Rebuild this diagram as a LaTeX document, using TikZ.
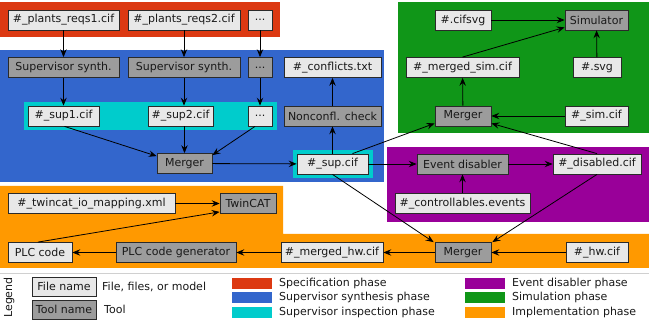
\documentclass[tikz,border=0pt]{standalone}
\usepackage{fontspec}
\setmainfont{DejaVu Sans}
\usetikzlibrary{arrows.meta}
\definecolor{specred}{HTML}{DC3912}
\definecolor{synthblue}{HTML}{3366CC}
\definecolor{inspcyan}{HTML}{00CCCC}
\definecolor{disabpurple}{HTML}{990099}
\definecolor{simgreen}{HTML}{109618}
\definecolor{implorange}{HTML}{FF9900}
\definecolor{filefill}{HTML}{E8E8E8}
\definecolor{toolfill}{HTML}{9C9C9C}
\definecolor{boxline}{HTML}{2A2A2A}
\definecolor{sepgray}{HTML}{D0D0D0}
\tikzset{
  basebox/.style={draw=boxline, line width=0.8pt, rectangle, inner xsep=2pt, inner ysep=0pt,
    minimum height=20pt, text=black!90, font=\fontsize{11}{13}\selectfont, anchor=center},
  filebox/.style={basebox, fill=filefill},
  toolbox/.style={basebox, fill=toolfill},
  flow/.style={draw=black, line width=0.8pt, -{Stealth[length=8pt,width=6.5pt,inset=3pt]}},
  legtext/.style={font=\fontsize{11}{13}\selectfont, text=black!90, anchor=west, inner sep=0pt}
}
\begin{document}
\begin{tikzpicture}[x=1pt,y=-1pt]
\useasboundingbox (0,0) rectangle (649,320);
\fill[white] (0,0) rectangle (649,320);

% phase areas
\fill[specred] (0,2) rectangle (280,37);
\fill[simgreen] (398,2) rectangle (649,133);
\fill[synthblue] (0,50) rectangle (384,182);
\fill[inspcyan] (24,102) rectangle (277,130);
\fill[inspcyan] (292.5,150.5) rectangle (372.5,178.5);
\fill[disabpurple] (387,147) rectangle (649,222);
\fill[implorange] (0,186) -- (283,186) -- (283,234) -- (649,234) -- (649,268) -- (0,268) -- cycle;

% specification
\node[filebox, minimum width=111pt] (pr1) at (63.5,20) {\#\_plants\_reqs1.cif};
\node[filebox, minimum width=112pt] (pr2) at (184,20) {\#\_plants\_reqs2.cif};
\node[filebox, minimum width=24pt] (prd) at (260,20) {...};

% synthesis
\node[toolbox, minimum width=111pt] (ss1) at (63.5,67.5) {Supervisor synth.};
\node[toolbox, minimum width=112pt] (ss2) at (184,67.5) {Supervisor synth.};
\node[toolbox, minimum width=24pt] (ssd) at (260,67.5) {...};
\node[filebox, minimum width=97pt] (conf) at (332.5,67.5) {\#\_conflicts.txt};
\node[filebox, minimum width=71pt] (sup1) at (63.5,116) {\#\_sup1.cif};
\node[filebox, minimum width=65pt] (sup2) at (180.5,116) {\#\_sup2.cif};
\node[filebox, minimum width=24pt] (supd) at (260,116) {...};
\node[toolbox, minimum width=97pt] (ncc) at (332.5,116) {Nonconfl. check};
\node[toolbox, minimum width=55pt] (mergeB) at (184.5,163.5) {Merger};
\node[filebox, minimum width=71pt] (sup) at (332.5,164) {\#\_sup.cif};

% simulation
\node[filebox, minimum width=56pt] (cifsvg) at (463,20) {\#.cifsvg};
\node[toolbox, minimum width=63pt] (simu) at (596.5,20) {Simulator};
\node[filebox, minimum width=113pt] (msim) at (462.5,67.5) {\#\_merged\_sim.cif};
\node[filebox, minimum width=48pt] (svg) at (597,67.5) {\#.svg};
\node[toolbox, minimum width=56pt] (mergeG) at (463,116) {Merger};
\node[filebox, minimum width=63pt] (simcif) at (596.5,116) {\#\_sim.cif};

% event disabling
\node[toolbox, minimum width=91pt] (evd) at (462.5,164) {Event disabler};
\node[filebox, minimum width=88pt] (dis) at (597,164) {\#\_disabled.cif};
\node[filebox, minimum width=135pt] (ctrl) at (462.5,203.5) {\#\_controllables.events};

% implementation
\node[filebox, minimum width=167pt] (tcmap) at (91.5,203.5) {\#\_twincat\_io\_mapping.xml};
\node[toolbox, minimum width=56pt] (twincat) at (248,203.5) {TwinCAT};
\node[filebox, minimum width=64pt] (plc) at (40,252.5) {PLC code};
\node[toolbox, minimum width=120pt] (plcgen) at (176,252.5) {PLC code generator};
\node[filebox, minimum width=102pt] (mhw) at (332,252.5) {\#\_merged\_hw.cif};
\node[toolbox, minimum width=56pt] (mergeO) at (463,252.5) {Merger};
\node[filebox, minimum width=62pt] (hw) at (597,252.5) {\#\_hw.cif};

% connectors
\draw[flow] (pr1) -- (ss1);
\draw[flow] (pr2) -- (ss2);
\draw[flow] (prd) -- (ssd);
\draw[flow] (ss1) -- (sup1);
\draw[flow] (ss2.south) -- (ss2.south |- sup2.north);
\draw[flow] (ssd) -- (supd);
\draw[flow] ([xshift=1pt]sup1.south) -- ([yshift=-3pt]mergeB.north west);
\draw[flow] (mergeB.north |- sup2.south) -- (mergeB.north);
\draw[flow] ([xshift=-5pt]supd.south) -- ([yshift=-2pt]mergeB.north east);
\draw[flow] (mergeB) -- (sup);
\draw[flow] (sup) -- (ncc);
\draw[flow] (ncc) -- (conf);
\draw[flow] ([xshift=20pt]sup.north) -- ([yshift=3pt]mergeG.south west);
\draw[flow] (sup) -- (evd);
\draw[flow] (evd) -- (dis);
\draw[flow] (ctrl) -- (evd);
\draw[flow] (dis.north) -- ([yshift=3pt]mergeG.south east);
\draw[flow] (simcif) -- (mergeG);
\draw[flow] (mergeG) -- (msim);
\draw[flow] (msim.north) -- ([yshift=3pt]simu.south west);
\draw[flow] (cifsvg) -- (simu);
\draw[flow] (svg) -- (simu);
\draw[flow] (sup.south) -- ([xshift=-1pt]mergeO.north west);
\draw[flow] (dis.south) -- ([xshift=1pt]mergeO.north east);
\draw[flow] (hw) -- (mergeO);
\draw[flow] (mergeO) -- (mhw);
\draw[flow] (mhw) -- (plcgen);
\draw[flow] (plcgen) -- (plc);
\draw[flow] ([xshift=-2pt]plc.north) -- ([yshift=2pt]twincat.south west);
\draw[flow] (tcmap) -- (twincat);

% legend
\draw[sepgray, line width=1.5pt] (0,273.5) -- (649,273.5);
\node[font=\fontsize{11}{13}\selectfont, text=black!90, rotate=90, inner sep=0pt] (legtitle) at (9,297.5) {Legend};
\node[filebox, minimum width=64pt, minimum height=19pt] (legfile) at (64,286.5) {File name};
\node[toolbox, minimum width=64pt, minimum height=19pt] (legtool) at (64,309.5) {Tool name};
\node[legtext] (legfiletxt) at (102,286.5) {File, files, or model};
\node[legtext] (legtooltxt) at (104,309.5) {Tool};
\fill[specred] (232,278) rectangle (272,289);
\fill[synthblue] (232,292) rectangle (272,303);
\fill[inspcyan] (232,307) rectangle (272,318);
\node[legtext] (legspec) at (279,283.5) {Specification phase};
\node[legtext] (legsynth) at (279,297.5) {Supervisor synthesis phase};
\node[legtext] (leginsp) at (279,312.5) {Supervisor inspection phase};
\fill[disabpurple] (465,278) rectangle (505,289);
\fill[simgreen] (465,292) rectangle (505,303);
\fill[implorange] (465,307) rectangle (505,318);
\node[legtext] (legdis) at (512,283.5) {Event disabler phase};
\node[legtext] (legsim) at (512,297.5) {Simulation phase};
\node[legtext] (legimpl) at (512,312.5) {Implementation phase};
\end{tikzpicture}
\end{document}
